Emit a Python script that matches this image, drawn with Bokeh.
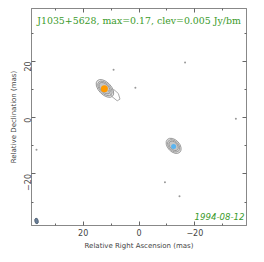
import math
from bokeh.plotting import figure
from bokeh.models import Range1d, FixedTicker, LinearAxis, Label
from bokeh.embed import file_html
from bokeh.resources import INLINE

title_text = "J1035+5628, max=0.17, clev=0.005 Jy/bm"
date_text = "1994-08-12"
x_ticks = [-20, 0, 20]
minor_ticks = [-30, -10, 10, 30]

# contour ellipses (mas): centre x, centre y, major, minor
c1_x = [12.2, 12.2, 12.3]
c1_y = [10.4, 10.4, 10.5]
c1_w = [7.8, 6.4, 5.0]
c1_h = [4.4, 3.6, 2.8]
c2_x = [-12.4, -12.4, -12.4]
c2_y = [-10.0, -10.0, -10.0]
c2_w = [6.4, 5.2, 4.0]
c2_h = [4.2, 3.4, 2.6]
# jet lobe contour of component 1
lobe_x = [11.0, 9.0, 7.4, 6.8, 7.8, 9.8, 11.0]
lobe_y = [9.6, 10.0, 8.6, 6.6, 6.0, 7.6, 9.6]
# cores
core_x = [12.4, -12.4]
core_y = [10.3, -10.2]
core_c = ["#ff9a00", "#5ab4f0"]
# isolated noise spots
spot_x = [9.1, 1.3, -16.5, -34.7, 36.7, -9.3, -14.5]
spot_y = [17.0, 10.6, 19.6, -0.4, -11.4, -22.9, -27.9]
# beam
beam_x = [36.7]
beam_y = [-36.7]

p = figure(width=252, height=252, output_backend="svg", toolbar_location=None,
           x_range=Range1d(38.5, -38.5), y_range=Range1d(-38.3, 38.8),
           min_border_left=31, min_border_right=6, min_border_top=8, min_border_bottom=0)
p.grid.visible = False
p.outline_line_color = "#888888"
p.background_fill_color = "white"

for ax in (p.xaxis[0], p.yaxis[0]):
    ax.ticker = FixedTicker(ticks=x_ticks, minor_ticks=minor_ticks)
    ax.major_tick_in = 4
    ax.major_tick_out = 0
    ax.minor_tick_in = 2
    ax.minor_tick_out = 0
    ax.axis_line_color = "#888888"
    ax.major_tick_line_color = "#666666"
    ax.minor_tick_line_color = "#666666"
    ax.major_label_text_font = "DejaVu Sans"
    ax.major_label_text_font_size = "8px"
    ax.major_label_text_color = "#444444"
    ax.axis_label_text_font = "DejaVu Sans"
    ax.axis_label_text_font_size = "7px"
    ax.axis_label_text_font_style = "normal"
    ax.axis_label_text_color = "#444444"
    ax.major_label_standoff = 3
    ax.axis_label_standoff = 3
p.xaxis.axis_label = "Relative Right Ascension (mas)"
p.yaxis.axis_label = "Relative Declination (mas)"
p.yaxis.major_label_orientation = math.pi / 2
p.yaxis.major_label_standoff = 4
p.yaxis.axis_label_standoff = 0

for side in ("above", "right"):
    ax = LinearAxis(ticker=FixedTicker(ticks=x_ticks, minor_ticks=minor_ticks),
                    major_tick_in=4, major_tick_out=0, minor_tick_in=2, minor_tick_out=0,
                    major_label_overrides={t: "" for t in x_ticks},
                    axis_line_color="#888888",
                    major_tick_line_color="#666666", minor_tick_line_color="#666666")
    p.add_layout(ax, side)

ang = -0.8
p.ellipse(x=c1_x, y=c1_y, width=c1_w, height=c1_h, angle=ang,
          fill_color=["#dddddd", "#cccccc", "#bbbbbb"], fill_alpha=0.6,
          line_color="#999999", line_width=1)
p.patch(x=lobe_x, y=lobe_y, fill_color=None, line_color="#aaaaaa", line_width=1)
p.ellipse(x=c2_x, y=c2_y, width=c2_w, height=c2_h, angle=ang,
          fill_color=["#dddddd", "#cccccc", "#bbbbbb"], fill_alpha=0.6,
          line_color="#999999", line_width=1)
p.scatter(x=core_x, y=core_y, size=[7, 5], fill_color=core_c, line_color=None)
p.scatter(x=spot_x, y=spot_y, size=2, fill_color="#999999", line_color=None)
p.ellipse(x=beam_x, y=beam_y, width=1.2, height=2.0, angle=0.2,
          fill_color="#6a7f9a", line_color="#556677")

p.add_layout(Label(x=0, y=34.5, text=title_text, text_align="center",
                   text_baseline="middle", text_font="DejaVu Serif",
                   text_font_size="9.4px", text_color="#3a9a2a"))
p.add_layout(Label(x=-37.8, y=-35.0, text=date_text, text_align="right",
                   text_baseline="middle", text_font="DejaVu Sans",
                   text_font_style="italic",
                   text_font_size="8.6px", text_color="#3a9a2a"))

open("out.html", "w").write(file_html(p, INLINE))
